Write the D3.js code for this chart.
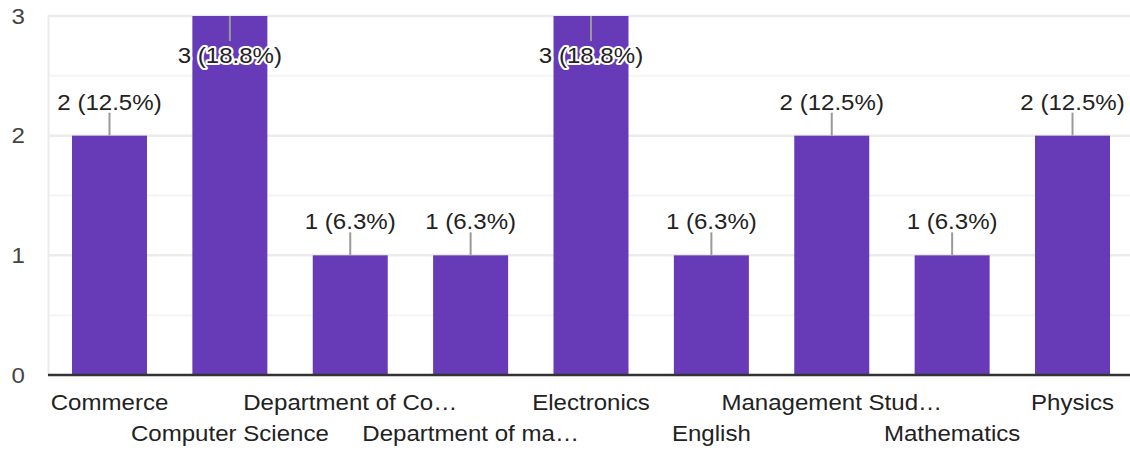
<!DOCTYPE html>
<html>
<head>
<meta charset="utf-8">
<script src="https://cdn.jsdelivr.net/npm/d3@7"></script>
<style>
  html, body { margin: 0; padding: 0; background: #fff; }
  svg { display: block; }
  text { font-family: "Liberation Sans", Arial, sans-serif; }
</style>
</head>
<body>
<svg id="chart" width="1130" height="452"></svg>
<script>
const categories = ["Commerce", "Computer Science", "Department of Co…", "Department of ma…", "Electronics", "English", "Management Stud…", "Mathematics", "Physics"];
const counts = [2, 3, 1, 1, 3, 1, 2, 1, 2];
const percents = ["12.5%", "18.8%", "6.3%", "6.3%", "18.8%", "6.3%", "12.5%", "6.3%", "12.5%"];
const yTicks = [0, 1, 2, 3];
const yMinorTicks = [0.5, 1.5, 2.5];

const W = 1130, H = 452;
const FS = 21.5, SX = 1.12;
const svg = d3.select("#chart");

const x = d3.scaleBand().domain(categories).range([49.3, 1132.7]).paddingInner(0.377).paddingOuter(0.1885);
const y = d3.scaleLinear().domain([0, 3]).range([375, 16]);

// minor gridlines
svg.append("g").selectAll("line").data(yMinorTicks).join("line")
  .attr("x1", 48).attr("x2", W).attr("y1", d => y(d)).attr("y2", d => y(d))
  .attr("stroke", "#f4f4f4").attr("stroke-width", 2);
// major gridlines
svg.append("g").selectAll("line").data(yTicks.filter(d => d > 0)).join("line")
  .attr("x1", 48).attr("x2", W).attr("y1", d => y(d)).attr("y2", d => y(d))
  .attr("stroke", "#ebebeb").attr("stroke-width", 2.5);
// left vertical line
svg.append("line").attr("x1", 48.5).attr("x2", 48.5).attr("y1", y(3) - 1).attr("y2", y(0))
  .attr("stroke", "#ebebeb").attr("stroke-width", 2);

// y tick labels
svg.append("g").selectAll("text").data(yTicks).join("text")
  .attr("transform", d => `translate(25,${y(d)}) scale(${SX},1)`)
  .attr("text-anchor", "end").attr("dy", "0.36em")
  .attr("font-size", FS).attr("fill", "#444")
  .text(d => d);

// bars
svg.append("g").selectAll("rect").data(categories).join("rect")
  .attr("x", d => x(d)).attr("width", x.bandwidth())
  .attr("y", (d, i) => y(counts[i])).attr("height", (d, i) => y(0) - y(counts[i]))
  .attr("fill", "#673ab7");

// axis line
svg.append("line").attr("x1", 48).attr("x2", W).attr("y1", y(0)).attr("y2", y(0))
  .attr("stroke", "#333").attr("stroke-width", 2.5);

// value labels
const maxV = y.domain()[1];
const lab = svg.append("g");
categories.forEach((c, i) => {
  const cx = x(c) + x.bandwidth() / 2;
  const top = y(counts[i]);
  const inside = counts[i] >= maxV;
  const lineEnd = inside ? top + 25 : top - 23;
  const base = inside ? top + 47 : top - 26;
  const t = `${counts[i]} (${percents[i]})`;
  lab.append("line").attr("x1", cx).attr("x2", cx).attr("y1", top).attr("y2", lineEnd)
    .attr("stroke", "#999").attr("stroke-width", 2);
  if (inside) {
    lab.append("text").attr("transform", `translate(${cx},${base}) scale(${SX},1)`)
      .attr("text-anchor", "middle").attr("font-size", FS)
      .attr("fill", "none").attr("stroke", "#fff").attr("stroke-width", 4).attr("stroke-linejoin", "round")
      .text(t);
  }
  lab.append("text").attr("transform", `translate(${cx},${base}) scale(${SX},1)`)
    .attr("text-anchor", "middle").attr("font-size", FS).attr("fill", "#222")
    .text(t);
});

// x labels (staggered)
svg.append("g").selectAll("text").data(categories).join("text")
  .attr("transform", (d, i) => `translate(${x(d) + x.bandwidth() / 2},${i % 2 === 0 ? 410 : 441}) scale(${SX},1)`)
  .attr("text-anchor", "middle").attr("font-size", FS).attr("fill", "#222")
  .text(d => d);
</script>
</body>
</html>
